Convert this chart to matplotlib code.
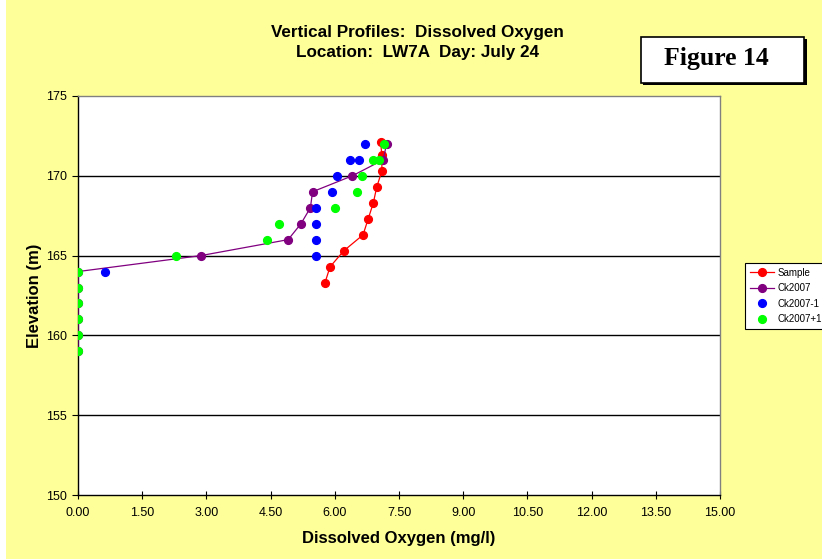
import matplotlib
matplotlib.use("Agg")
import matplotlib.pyplot as plt
from matplotlib.patches import Rectangle

# Dissolved oxygen (mg/l) vs elevation (m)
sample_do = [7.07, 7.10, 7.10, 6.98, 6.90, 6.78, 6.66, 6.21, 5.89, 5.77]
sample_el = [172.1, 171.3, 170.3, 169.3, 168.3, 167.3, 166.3, 165.3, 164.3, 163.3]

ck2007_do = [7.21, 7.13, 6.41, 5.48, 5.43, 5.21, 4.91, 2.87, 0.0, 0.0, 0.0, 0.0, 0.0, 0.0]
ck2007_el = [172, 171, 170, 169, 168, 167, 166, 165, 164, 163, 162, 161, 160, 159]

ck2007m1_do = [6.71, 6.57, 6.36, 6.05, 5.93, 5.57, 5.57, 5.57, 5.57, 0.62]
ck2007m1_el = [172, 171, 171, 170, 169, 168, 167, 166, 165, 164]

ck2007p1_do = [7.16, 7.03, 6.90, 6.64, 6.53, 6.01, 4.70, 4.42, 2.30, 0.0, 0.0, 0.0, 0.0, 0.0, 0.0]
ck2007p1_el = [172, 171, 171, 170, 169, 168, 167, 166, 165, 164, 163, 162, 161, 160, 159]

x_ticks = [0, 1.5, 3, 4.5, 6, 7.5, 9, 10.5, 12, 13.5, 15]
y_ticks = [150, 155, 160, 165, 170, 175]

bg = "#FFFF99"
sans = ["Liberation Sans", "DejaVu Sans"]

fig = plt.figure(figsize=(8.22, 5.59), dpi=100, facecolor="white")
fig.patches.append(Rectangle((6 / 822, 0), 1, 1, transform=fig.transFigure,
                             facecolor=bg, edgecolor="none", zorder=-10))

ax = fig.add_axes([78 / 822, 1 - 495 / 559, 642 / 822, 399 / 559])
ax.set_facecolor("white")

ms = 5.6
ax.plot(sample_do, sample_el, "-o", color="#FF0000", ms=ms, lw=0.9, label="Sample", zorder=3)
ax.plot(ck2007_do, ck2007_el, "-o", color="#800080", ms=ms, lw=0.9, label="Ck2007", zorder=4)
ax.plot(ck2007m1_do, ck2007m1_el, "o", color="#0000FF", ms=ms, label="Ck2007-1", zorder=5)
ax.plot(ck2007p1_do, ck2007p1_el, "o", color="#00FF00", ms=ms, label="Ck2007+1", zorder=6)

ax.set_xlim(0, 15)
ax.set_ylim(150, 175)
ax.set_xticks(x_ticks)
ax.set_xticklabels([f"{v:.2f}" for v in x_ticks], fontfamily=sans, fontsize=9)
ax.set_yticks(y_ticks)
ax.set_yticklabels([str(v) for v in y_ticks], fontfamily=sans, fontsize=9)
ax.tick_params(axis="x", direction="inout", length=6, width=0.8, pad=6)
ax.tick_params(axis="y", direction="out", length=4, width=0.8, pad=4)

for y in [155, 160, 165, 170]:
    ax.axhline(y, color="black", lw=1.0, zorder=1)

ax.spines["left"].set_color("black")
ax.spines["bottom"].set_color("black")
ax.spines["top"].set_color("#808080")
ax.spines["right"].set_color("#808080")
for s in ax.spines.values():
    s.set_linewidth(1.0)

ax.set_xlabel("Dissolved Oxygen (mg/l)", fontfamily=sans, fontsize=12,
              fontweight="bold", labelpad=8)
ax.set_ylabel("Elevation (m)", fontfamily=sans, fontsize=12,
              fontweight="bold", labelpad=3)

fig.text(417 / 822, 1 - 33 / 559, "Vertical Profiles:  Dissolved Oxygen",
         ha="center", va="center", fontfamily=sans, fontsize=12.3, fontweight="bold")
fig.text(417 / 822, 1 - 53 / 559, "Location:  LW7A  Day: July 24",
         ha="center", va="center", fontfamily=sans, fontsize=12.3, fontweight="bold")

# Figure number box with drop shadow
fig.patches.append(Rectangle((643 / 822, 1 - 85 / 559), 164 / 822, 46 / 559,
                             transform=fig.transFigure, facecolor="black",
                             edgecolor="none", zorder=1))
fig.patches.append(Rectangle((641 / 822, 1 - 83 / 559), 163 / 822, 46 / 559,
                             transform=fig.transFigure, facecolor="white",
                             edgecolor="black", lw=1.2, zorder=2))
fig.text(716 / 822, 1 - 59 / 559, "Figure 14", ha="center", va="center",
         fontfamily=["Liberation Serif", "DejaVu Serif"], fontsize=18.5,
         fontweight="bold", zorder=3)

leg = fig.legend(loc="upper left", bbox_to_anchor=(745 / 822, 1 - 263 / 559),
                 prop={"family": sans, "size": 7}, frameon=True, fancybox=False,
                 edgecolor="black", framealpha=1, borderpad=0.5,
                 labelspacing=0.55, handlelength=2.5, handletextpad=0.3,
                 borderaxespad=0)
leg.get_frame().set_linewidth(0.8)

fig.savefig("out.png", dpi=100, facecolor=fig.get_facecolor())
